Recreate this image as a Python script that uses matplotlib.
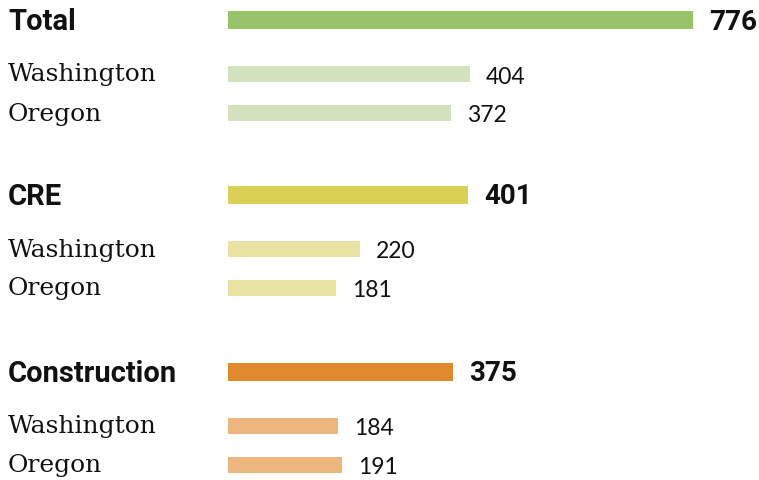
import matplotlib
matplotlib.use("Agg")
import matplotlib.pyplot as plt

# data
groups = ["Total", "CRE", "Construction"]
group_totals = [776, 401, 375]
states = ["Washington", "Oregon"]
state_values = [[404, 372], [220, 181], [184, 191]]
dark_colors = ["#98c36b", "#d9d155", "#e0892e"]
light_colors = ["#d3e1bf", "#e8e2a3", "#edb67f"]

W, H = 759, 481
fig = plt.figure(figsize=(W / 100, H / 100), dpi=100)
ax = fig.add_axes([0, 0, 1, 1])

px = 0.599  # pixels per unit
x0 = 228    # pixel where bars start
ax.set_xlim(-x0 / px, (W - x0) / px)
ax.set_ylim(H, 0)
ax.axis("off")

label_x = -(x0 - 8) / px
group_y = [21, 196, 373]
state_dy = [54, 93]

for g, name in enumerate(groups):
    y = group_y[g]
    ax.barh(y, group_totals[g], height=18, color=dark_colors[g], left=0)
    ax.text(label_x, y + 1, name, fontsize=21, fontweight="bold", family="Roboto",
            va="center", ha="left", color="#111111")
    ax.text(group_totals[g] + 16 / px, y + 1, str(group_totals[g]), fontsize=20,
            fontweight="bold", family="Roboto", va="center", ha="left", color="#111111")
    for s, st in enumerate(states):
        ys = y + state_dy[s]
        v = state_values[g][s]
        ax.barh(ys, v, height=16, color=light_colors[g], left=0)
        ax.text(label_x, ys, st, fontsize=18, family="DejaVu Serif",
                va="center", ha="left", color="#111111")
        ax.text(v + 16 / px, ys + 2, str(v), fontsize=16.5, family="Lato",
                va="center", ha="left", color="#111111")

fig.savefig("out.png", dpi=100)
